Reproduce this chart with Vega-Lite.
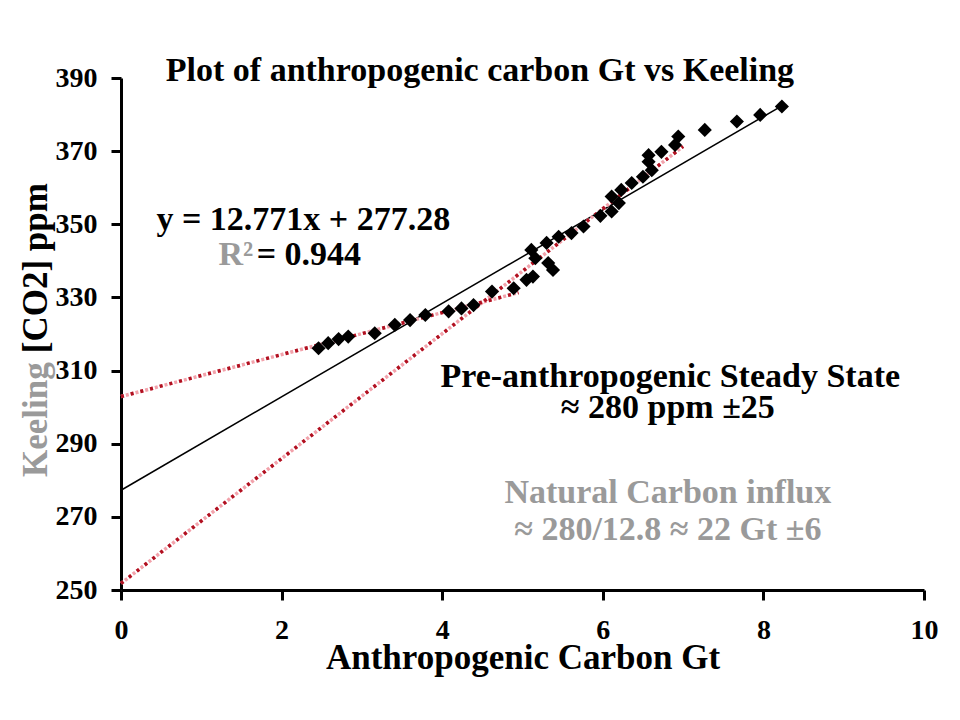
{
  "$schema": "https://vega.github.io/schema/vega-lite/v6.json",
  "width": 803,
  "height": 512,
  "autosize": {"type": "none"},
  "padding": {"left": 121, "top": 78, "right": 36, "bottom": 130},
  "background": "white",
  "config": {
    "font": "Liberation Serif",
    "view": {"stroke": null},
    "axis": {
      "grid": false,
      "domainColor": "black",
      "domainWidth": 3,
      "tickColor": "black",
      "tickWidth": 3,
      "tickSize": 10,
      "labelFlush": false,
      "labelOverlap": false,
      "labelFont": "Liberation Serif",
      "labelFontSize": 28,
      "labelFontWeight": "bold",
      "labelColor": "black",
      "titleFont": "Liberation Serif",
      "titleColor": "black",
      "titleFontWeight": "bold"
    }
  },
  "datasets": {
    "points": [
      {"carbon": 2.46, "keeling": 316.1},
      {"carbon": 2.58, "keeling": 317.5},
      {"carbon": 2.71, "keeling": 318.6},
      {"carbon": 2.83, "keeling": 319.3},
      {"carbon": 3.16, "keeling": 320.2},
      {"carbon": 3.41, "keeling": 322.5},
      {"carbon": 3.60, "keeling": 323.8},
      {"carbon": 3.79, "keeling": 325.2},
      {"carbon": 4.08, "keeling": 326.2},
      {"carbon": 4.24, "keeling": 327.0},
      {"carbon": 4.39, "keeling": 327.9},
      {"carbon": 4.62, "keeling": 331.6},
      {"carbon": 4.89, "keeling": 332.5},
      {"carbon": 5.05, "keeling": 334.8},
      {"carbon": 5.13, "keeling": 335.7},
      {"carbon": 5.11, "keeling": 343.0},
      {"carbon": 5.16, "keeling": 340.7},
      {"carbon": 5.30, "keeling": 344.9},
      {"carbon": 5.38, "keeling": 337.5},
      {"carbon": 5.32, "keeling": 339.4},
      {"carbon": 5.45, "keeling": 346.6},
      {"carbon": 5.61, "keeling": 347.6},
      {"carbon": 5.76, "keeling": 349.4},
      {"carbon": 5.97, "keeling": 352.3},
      {"carbon": 6.11, "keeling": 353.5},
      {"carbon": 6.20, "keeling": 355.8},
      {"carbon": 6.11, "keeling": 357.6},
      {"carbon": 6.23, "keeling": 359.4},
      {"carbon": 6.36, "keeling": 361.3},
      {"carbon": 6.50, "keeling": 363.0},
      {"carbon": 6.61, "keeling": 364.8},
      {"carbon": 6.57, "keeling": 367.1},
      {"carbon": 6.57, "keeling": 368.9},
      {"carbon": 6.73, "keeling": 369.8},
      {"carbon": 6.90, "keeling": 371.7},
      {"carbon": 6.94, "keeling": 374.0},
      {"carbon": 7.27, "keeling": 375.8},
      {"carbon": 7.67, "keeling": 378.1},
      {"carbon": 7.96, "keeling": 379.9},
      {"carbon": 8.23, "keeling": 382.2}
    ],
    "fit": [
      {"carbon": 0, "keeling": 277.28},
      {"carbon": 8.23, "keeling": 382.39}
    ],
    "red": [
      {"line": "upper", "carbon": 0, "keeling": 302.9},
      {"line": "upper", "carbon": 4.95, "keeling": 331.3},
      {"line": "lower", "carbon": 0, "keeling": 251.8},
      {"line": "lower", "carbon": 7.0, "keeling": 371.3}
    ],
    "labels": [
      {"carbon": 4.47, "keeling": 389.2, "text": "Plot of anthropogenic carbon Gt vs Keeling", "color": "black"},
      {"carbon": 2.27, "keeling": 348.4, "text": "y = 12.771x + 277.28", "color": "black"},
      {"carbon": 1.43, "keeling": 338.9, "text": "R²", "color": "grey"},
      {"carbon": 2.34, "keeling": 338.9, "text": "= 0.944", "color": "black"},
      {"carbon": 6.84, "keeling": 305.5, "text": "Pre-anthropogenic Steady State", "color": "black"},
      {"carbon": 6.81, "keeling": 297.0, "text": "≈ 280 ppm ±25", "color": "black"},
      {"carbon": 6.81, "keeling": 273.8, "text": "Natural Carbon influx", "color": "grey"},
      {"carbon": 6.81, "keeling": 263.7, "text": "≈ 280/12.8 ≈  22 Gt ±6", "color": "grey"}
    ],
    "ytitle": [
      {"carbon": -0.92, "keeling": 296.6, "text": "Keeling", "color": "grey"},
      {"carbon": -0.92, "keeling": 338.0, "text": "[CO2] ppm", "color": "black"}
    ]
  },
  "layer": [
    {
      "data": {"name": "fit"},
      "mark": {"type": "line", "color": "black", "strokeWidth": 1.5},
      "encoding": {
        "x": {"field": "carbon", "type": "quantitative", "scale": {"domain": [0, 10]},
              "axis": {"values": [0, 2, 4, 6, 8, 10], "format": "d", "title": "Anthropogenic Carbon Gt", "titleFontSize": 35,
                       "titleY": 78, "titleBaseline": "alphabetic", "labelPadding": 16}},
        "y": {"field": "keeling", "type": "quantitative", "scale": {"domain": [250, 390]},
              "axis": {"values": [250, 270, 290, 310, 330, 350, 370, 390], "format": "d", "title": null, "labelPadding": 14}}
      }
    },
    {
      "data": {"name": "red"},
      "mark": {"type": "line", "color": "#f2a2ab", "strokeWidth": 3.5, "strokeDash": [3, 2]},
      "encoding": {
        "x": {"field": "carbon", "type": "quantitative"},
        "y": {"field": "keeling", "type": "quantitative"},
        "detail": {"field": "line"}
      }
    },
    {
      "data": {"name": "red"},
      "mark": {"type": "line", "color": "#b01020", "strokeWidth": 3.5, "strokeDash": [3, 7]},
      "encoding": {
        "x": {"field": "carbon", "type": "quantitative"},
        "y": {"field": "keeling", "type": "quantitative"},
        "detail": {"field": "line"}
      }
    },
    {
      "data": {"name": "points"},
      "mark": {"type": "point", "shape": "diamond", "filled": true, "color": "black", "size": 200, "opacity": 1},
      "encoding": {
        "x": {"field": "carbon", "type": "quantitative"},
        "y": {"field": "keeling", "type": "quantitative"}
      }
    },
    {
      "data": {"name": "labels"},
      "mark": {"type": "text", "fontSize": 34, "fontWeight": "bold", "font": "Liberation Serif", "baseline": "alphabetic", "align": "center"},
      "encoding": {
        "x": {"field": "carbon", "type": "quantitative"},
        "y": {"field": "keeling", "type": "quantitative"},
        "text": {"field": "text"},
        "color": {"field": "color", "type": "nominal", "scale": {"domain": ["black", "grey"], "range": ["#000000", "#9a9a9a"]}, "legend": null}
      }
    },
    {
      "data": {"name": "ytitle"},
      "mark": {"type": "text", "fontSize": 35, "fontWeight": "bold", "font": "Liberation Serif", "baseline": "alphabetic", "align": "center", "angle": 270},
      "encoding": {
        "x": {"field": "carbon", "type": "quantitative"},
        "y": {"field": "keeling", "type": "quantitative"},
        "text": {"field": "text"},
        "color": {"field": "color", "type": "nominal", "scale": {"domain": ["black", "grey"], "range": ["#000000", "#8a8a8a"]}, "legend": null}
      }
    }
  ]
}
